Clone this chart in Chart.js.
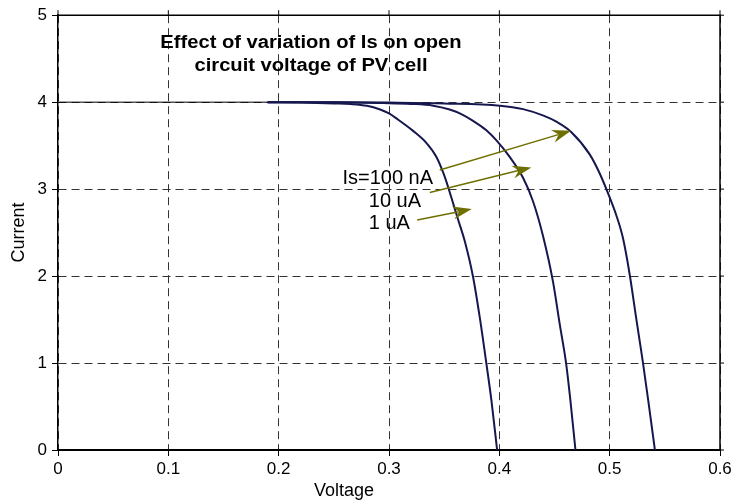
<!DOCTYPE html>
<html>
<head>
<meta charset="utf-8">
<script src="https://cdn.jsdelivr.net/npm/chart.js@4.4.0/dist/chart.umd.min.js"></script>
<style>
  html, body { margin: 0; padding: 0; background: #fff; }
  #wrap { width: 736px; height: 503px; }
</style>
</head>
<body>
<div id="wrap"><canvas id="chart" width="736" height="503"></canvas></div>
<script>
// I-V curves (voltage in V, current in A)
const voltsLeft  = [0.19, 0.22, 0.25, 0.265, 0.28, 0.292, 0.300, 0.307, 0.3218, 0.334, 0.343, 0.350, 0.3566, 0.3626, 0.3687, 0.3762, 0.3822, 0.3883, 0.3928, 0.398];
const ampsLeft   = [4.00, 3.995, 3.985, 3.978, 3.958, 3.915, 3.87, 3.81, 3.67, 3.53, 3.37, 3.16, 2.90, 2.65, 2.40, 1.99, 1.53, 0.99, 0.573, 0.0];

const voltsMid   = [0.19, 0.25, 0.295, 0.32, 0.340, 0.355, 0.366, 0.3762, 0.388, 0.3974, 0.4094, 0.4215, 0.4305, 0.4396, 0.4487, 0.4547, 0.4607, 0.4645, 0.469];
const ampsMid    = [4.0, 4.0, 3.99, 3.98, 3.96, 3.915, 3.86, 3.785, 3.68, 3.56, 3.37, 3.13, 2.86, 2.46, 1.93, 1.45, 0.98, 0.56, 0.0];

const voltsRight = [0.19, 0.25, 0.30, 0.35, 0.4004, 0.4215, 0.440, 0.4517, 0.4653, 0.4819, 0.491, 0.500, 0.506, 0.512, 0.518, 0.524, 0.530, 0.5355, 0.541];
const ampsRight  = [4.0, 4.0, 3.995, 3.985, 3.96, 3.92, 3.845, 3.775, 3.655, 3.40, 3.18, 2.905, 2.70, 2.44, 2.03, 1.52, 1.02, 0.52, 0.0];

// flat part at Isc before the curves split
const voltsFlat = [0, 0.19];
const ampsFlat  = [4, 4];

// arrow annotations (same units as the axes)
const isLabels = ['Is=100 nA', '10 uA', '1 uA'];
const arrowFrom = [[0.346, 3.22], [0.337, 2.96], [0.3255, 2.645]];
const arrowTo   = [[0.465, 3.67], [0.429, 3.25], [0.375, 2.77]];

const titleLines = ['Effect of variation of Is on open', 'circuit voltage of PV cell'];

const FONT = '"Liberation Sans", Arial, Helvetica, sans-serif';
const curveColor = '#17174f';
const olive = '#6f6f00';

const pts = (xs, ys) => xs.map((v, i) => ({ x: v, y: ys[i] }));

// text, arrows and the top/right frame
const annotate = {
  id: 'annotate',
  afterDatasetsDraw(chart) {
    const { ctx, chartArea: a, scales: { x, y } } = chart;
    ctx.save();

    ctx.strokeStyle = '#000';
    ctx.lineWidth = 1.5;
    ctx.beginPath();
    ctx.moveTo(a.left, a.top);
    ctx.lineTo(a.right, a.top);
    ctx.lineTo(a.right, a.bottom);
    ctx.stroke();
    ctx.lineWidth = 1;
    ctx.beginPath();
    y.ticks.forEach(t => {
      const py = y.getPixelForValue(t.value);
      ctx.moveTo(a.right, py); ctx.lineTo(a.right + 4, py);
    });
    x.ticks.forEach(t => {
      const px = x.getPixelForValue(t.value);
      ctx.moveTo(px, a.top); ctx.lineTo(px, a.top - 5);
    });
    ctx.stroke();

    // arrows
    ctx.strokeStyle = olive;
    ctx.fillStyle = olive;
    arrowFrom.forEach(([v0, i0], k) => {
      const [v1, i1] = arrowTo[k];
      const x0 = x.getPixelForValue(v0), y0 = y.getPixelForValue(i0);
      const x1 = x.getPixelForValue(v1), y1 = y.getPixelForValue(i1);
      const ang = Math.atan2(y1 - y0, x1 - x0);
      const L = 19, W = 6.5;
      ctx.lineWidth = 1.5;
      ctx.beginPath();
      ctx.moveTo(x0, y0);
      ctx.lineTo(x1 - L * 0.7 * Math.cos(ang), y1 - L * 0.7 * Math.sin(ang));
      ctx.stroke();
      ctx.save();
      ctx.translate(x1, y1);
      ctx.rotate(ang);
      ctx.beginPath();
      ctx.moveTo(0, 0);
      ctx.lineTo(-L, -W);
      ctx.lineTo(-L * 0.68, 0);
      ctx.lineTo(-L, W);
      ctx.closePath();
      ctx.fill();
      ctx.restore();
    });

    // Is labels
    const spots = [[0.2578, 3.125], [0.2817, 2.856], [0.2817, 2.60]];
    ctx.fillStyle = '#000';
    ctx.font = '20px ' + FONT;
    ctx.textAlign = 'left';
    ctx.textBaseline = 'middle';
    isLabels.forEach((s, k) => {
      ctx.fillText(s, x.getPixelForValue(spots[k][0]), y.getPixelForValue(spots[k][1]));
    });

    // title (the original lettering is a little wide)
    ctx.font = 'bold 18px ' + FONT;
    ctx.textAlign = 'center';
    [[titleLines[0], 43], [titleLines[1], 66]].forEach(([s, ty]) => {
      ctx.save();
      ctx.translate(a.left + 253, ty);
      ctx.scale(1.12, 1);
      ctx.fillText(s, 0, 0);
      ctx.restore();
    });

    // x axis title
    ctx.font = '18px ' + FONT;
    ctx.fillText('Voltage', 344, a.bottom + 41);
    ctx.restore();
  }
};

const lineSet = (label, xs, ys) => ({
  label,
  data: pts(xs, ys),
  borderColor: curveColor,
  borderWidth: 2,
  pointRadius: 0,
  cubicInterpolationMode: 'monotone',
  fill: false
});

new Chart(document.getElementById('chart'), {
  type: 'line',
  data: {
    datasets: [
      { label: 'Isc', data: pts(voltsFlat, ampsFlat), borderColor: '#000', borderWidth: 1, pointRadius: 0, fill: false },
      lineSet(isLabels[2], voltsLeft, ampsLeft),
      lineSet(isLabels[1], voltsMid, ampsMid),
      lineSet(isLabels[0], voltsRight, ampsRight)
    ]
  },
  options: {
    responsive: false,
    animation: false,
    layout: { padding: { top: 14, right: 16, left: 0, bottom: 0 } },
    plugins: { legend: { display: false }, tooltip: { enabled: false } },
    scales: {
      x: {
        type: 'linear',
        min: 0,
        max: 0.6,
        ticks: {
          stepSize: 0.1,
          color: '#000',
          font: { family: FONT, size: 17 },
          padding: 3,
          maxRotation: 0,
          callback: v => String(Number(v.toFixed(1)))
        },
        grid: { color: '#333', lineWidth: 1, tickLength: 6, tickColor: '#000' },
        border: { display: true, color: '#000', width: 2, dash: [8, 5] },
        afterFit(s) { s.height = 53; }
      },
      y: {
        min: 0,
        max: 5,
        ticks: {
          stepSize: 1,
          color: '#000',
          font: { family: FONT, size: 17 },
          padding: 5
        },
        title: {
          display: true,
          text: 'Current',
          color: '#000',
          font: { family: FONT, size: 18 },
          padding: { top: 8, bottom: 0 }
        },
        grid: { color: '#333', lineWidth: 1, tickLength: 6, tickColor: '#000' },
        border: { display: true, color: '#000', width: 1.5, dash: [8, 5] },
        afterFit(s) { s.width = 58; }
      }
    }
  },
  plugins: [annotate]
});
</script>
</body>
</html>
